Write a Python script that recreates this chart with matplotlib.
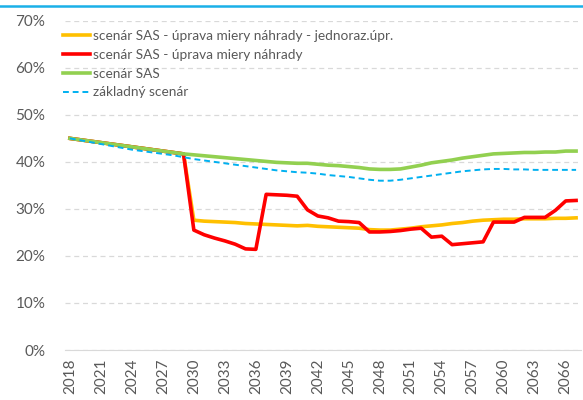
import matplotlib.pyplot as plt
from matplotlib.lines import Line2D
from matplotlib.ticker import PercentFormatter

plt.rcParams['font.family'] = ['Lato', 'DejaVu Sans']

# Roky
years = list(range(2018, 2068))

# Scenár SAS (zelená)
sas = [45.0, 44.7, 44.4, 44.1, 43.8, 43.5, 43.2, 42.9, 42.6, 42.3,
       42.0, 41.7, 41.5, 41.3, 41.1, 40.9, 40.7, 40.5, 40.3, 40.1,
       39.9, 39.8, 39.7, 39.7, 39.5, 39.3, 39.2, 39.0, 38.8, 38.5,
       38.4, 38.4, 38.5, 38.9, 39.3, 39.8, 40.1, 40.4, 40.8, 41.1,
       41.4, 41.7, 41.8, 41.9, 42.0, 42.0, 42.1, 42.1, 42.3, 42.3]

# Základný scenár (modrá prerušovaná)
zakladny = [45.0, 44.6, 44.2, 43.8, 43.4, 43.0, 42.6, 42.3, 42.0, 41.7,
            41.4, 41.0, 40.6, 40.3, 40.0, 39.7, 39.4, 39.1, 38.8, 38.5,
            38.2, 38.0, 37.8, 37.7, 37.5, 37.2, 37.0, 36.8, 36.5, 36.2,
            36.0, 36.0, 36.2, 36.5, 36.8, 37.1, 37.4, 37.7, 38.0, 38.2,
            38.4, 38.5, 38.5, 38.4, 38.4, 38.3, 38.3, 38.3, 38.3, 38.3]

# Úprava miery náhrady - jednorazová úprava (žltá)
jednoraz = sas[:12] + [
    27.6, 27.4, 27.3, 27.2, 27.1, 26.9, 26.8, 26.7, 26.6, 26.5,
    26.4, 26.5, 26.3, 26.2, 26.1, 26.0, 25.9, 25.6, 25.5, 25.5,
    25.7, 25.9, 26.2, 26.4, 26.6, 26.9, 27.1, 27.4, 27.6, 27.7,
    27.8, 27.8, 27.9, 27.9, 27.9, 28.0, 28.0, 28.1]

# Úprava miery náhrady (červená)
uprava = sas[:12] + [
    25.5, 24.5, 23.8, 23.2, 22.5, 21.5, 21.4, 33.1, 33.0, 32.9,
    32.7, 29.8, 28.5, 28.1, 27.4, 27.3, 27.1, 25.1, 25.1, 25.2,
    25.4, 25.7, 25.9, 24.0, 24.2, 22.4, 22.6, 22.8, 23.0, 27.2,
    27.2, 27.2, 28.2, 28.2, 28.2, 29.7, 31.7, 31.8]

labels = ['scenár SAS - úprava miery náhrady - jednoraz.úpr.',
          'scenár SAS - úprava miery náhrady',
          'scenár SAS',
          'základný scenár']
colors = ['#FFC000', '#FF0000', '#92D050', '#00B0F0']

fig = plt.figure(figsize=(5.83, 4.0), dpi=100)
ax = fig.add_axes([0.111, 0.125, 0.886, 0.823])

ax.plot(years, jednoraz, color=colors[0], lw=2.6, zorder=3)
ax.plot(years, uprava, color=colors[1], lw=2.6, zorder=4)
ax.plot(years, sas, color=colors[2], lw=2.6, zorder=5)
ax.plot(years, zakladny, color=colors[3], lw=1.4, ls=(0, (3, 2)), zorder=6)

ax.set_xlim(2017.5, 2067.5)
ax.set_ylim(0, 70)
ax.set_yticks(range(0, 71, 10))
ax.yaxis.set_major_formatter(PercentFormatter(decimals=0))
ax.set_xticks(years[::3])
ax.set_xticklabels([str(y) for y in years[::3]], rotation=90)

ax.grid(axis='y', color='#D9D9D9', ls=(0, (4, 3)), lw=0.9)
ax.set_axisbelow(True)
for s in ['top', 'right', 'left']:
    ax.spines[s].set_visible(False)
ax.spines['bottom'].set_color('#D9D9D9')
ax.tick_params(axis='both', length=0, labelsize=11, labelcolor='#595959')
ax.tick_params(axis='y', pad=14)
ax.tick_params(axis='x', pad=6)

handles = [Line2D([], [], color=colors[0], lw=2.6),
           Line2D([], [], color=colors[1], lw=2.6),
           Line2D([], [], color=colors[2], lw=2.6),
           Line2D([], [], color=colors[3], lw=1.4, ls=(0, (3, 2)))]
ax.legend(handles, labels, loc='upper left', bbox_to_anchor=(-0.004, 0.972),
          frameon=False, fontsize=9.8, labelcolor='#595959',
          borderpad=0, borderaxespad=0,
          handlelength=2.0, handletextpad=0.2, labelspacing=0.5)

# modrá linka nad grafom
fig.add_artist(Line2D([0, 1], [0.986, 0.986], color='#1AB0E8', lw=1.8))

fig.savefig('out.png', dpi=100)
